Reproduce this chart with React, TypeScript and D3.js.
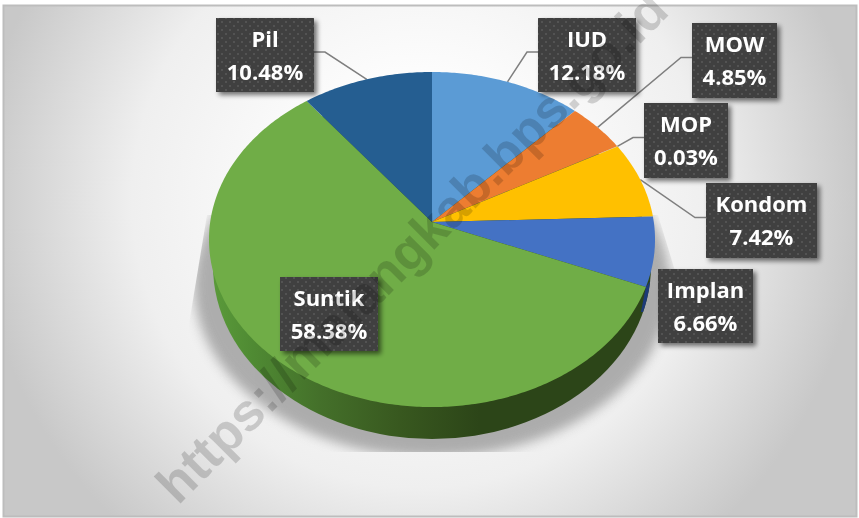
import React from "react";
import * as d3 from "d3";

const categories = ["IUD", "MOW", "MOP", "Kondom", "Implan", "Suntik", "Pil"];
const shares = [12.18, 4.85, 0.03, 7.42, 6.66, 58.38, 10.48];
const colours = ["#5b9bd5", "#ed7d31", "#a5a5a5", "#ffc000", "#4472c4", "#70ad47", "#255e91"];
const watermark = "https://malangkab.bps.go.id";

// label box layout: [x0, y0, x1, y1]
const boxes: Record<string, number[]> = {
  IUD: [538, 18, 636, 92],
  MOW: [692, 23, 777, 98],
  MOP: [644, 103, 728, 178],
  Kondom: [706, 183, 817, 258],
  Implan: [658, 269, 753, 343],
  Suntik: [280, 277, 378, 351],
  Pil: [216, 18, 314, 92],
};
const noLeader = ["Implan", "Suntik"];

const W = 859;
const H = 518;
const apex = { x: 432, y: 222 };
const persp = { s: 221.8, a: 165.7, k: -0.1045 };

function project(theta: number): [number, number] {
  const X = Math.sin(theta);
  const Y = -Math.cos(theta);
  const den = 1 + persp.k * Y;
  return [apex.x + (persp.s * X) / den, apex.y + (persp.a * Y) / den];
}

const lineGen = d3.line<[number, number]>();

function slicePath(a0: number, a1: number): string {
  const n = Math.max(2, Math.ceil((a1 - a0) * 80));
  const pts = d3.range(n + 1).map((i) => project(a0 + ((a1 - a0) * i) / n));
  return lineGen([[apex.x, apex.y], ...pts])! + "Z";
}

const arcs = d3.pie<number>().sort(null)(shares);
const bottom = { cx: 432, cy: 266, rx: 219, ry: 173 };
const shadow = { cx: 432, cy: 285, rx: 238, ry: 172 };

export default function App() {
  const implanIdx = categories.indexOf("Implan");
  const split = project(arcs[implanIdx].endAngle);
  return (
    <svg
      width={W}
      height={H}
      viewBox={`0 0 ${W} ${H}`}
      style={{ position: "fixed", left: 0, top: 0, display: "block" }}
    >
      <defs>
        <radialGradient id="bg" gradientUnits="userSpaceOnUse" cx={0} cy={0} r={1}
          gradientTransform="translate(420 200) scale(480 480)">
          <stop offset="0.2" stopColor="#ffffff" />
          <stop offset="0.6" stopColor="#efefef" />
          <stop offset="0.92" stopColor="#c8c8c8" />
        </radialGradient>
        <linearGradient id="side" gradientUnits="userSpaceOnUse" x1={213} x2={480} y1={0} y2={0}>
          <stop offset="0" stopColor="#5a9a3a" />
          <stop offset="0.15" stopColor="#4f8a33" />
          <stop offset="0.4" stopColor="#44702a" />
          <stop offset="0.7" stopColor="#38581f" />
          <stop offset="1" stopColor="#2c4518" />
        </linearGradient>
        <filter id="blur" x="-10%" y="-10%" width="120%" height="120%">
          <feGaussianBlur stdDeviation={6} />
        </filter>
        <filter id="boxShadow" x="-20%" y="-20%" width="140%" height="140%">
          <feGaussianBlur in="SourceAlpha" stdDeviation={2.5} />
          <feOffset dx={3} dy={3} />
          <feComponentTransfer>
            <feFuncA type="linear" slope={0.55} />
          </feComponentTransfer>
          <feMerge>
            <feMergeNode />
            <feMergeNode in="SourceGraphic" />
          </feMerge>
        </filter>
        <pattern id="dots" width={8} height={8} patternUnits="userSpaceOnUse">
          <rect width={8} height={8} fill="#3f3f3f" />
          <rect x={1} y={1} width={2} height={2} fill="#525252" />
          <rect x={5} y={5} width={2} height={2} fill="#525252" />
        </pattern>
        <clipPath id="shadowClip">
          <polygon points="207,215 188,330 188,452 690,452 690,320 658,215" />
        </clipPath>
        <clipPath id="blueSide">
          <polygon
            points={[
              [split[0], split[1]],
              [split[0] - 5, split[1] + 25],
              [split[0] + 30, split[1] + 25],
              [split[0] + 30, split[1] - 40],
            ]
              .map((p) => p.join(","))
              .join(" ")}
          />
        </clipPath>
      </defs>

      <rect x={3.5} y={5.5} width={853} height={511} fill="url(#bg)" stroke="#bdbdbd" strokeWidth={2} />

      <g clipPath="url(#shadowClip)">
        <ellipse {...shadow} fill="#8f8f8f" filter="url(#blur)" opacity={0.7} />
      </g>

      <ellipse {...bottom} fill="url(#side)" />
      <ellipse {...bottom} fill="#1d3a78" clipPath="url(#blueSide)" />

      {arcs.map((d, i) => {
        const name = categories[i];
        if (noLeader.includes(name)) return null;
        const b = boxes[name];
        const mid = (d.startAngle + d.endAngle) / 2;
        const p = project(mid);
        const rightSide = name === "Pil";
        const bx = rightSide ? b[2] : b[0];
        const by = (b[1] + b[3]) / 2 - 3 + (name === "Kondom" ? 0 : 0);
        const elbow = rightSide ? bx + 11 : bx - 11;
        return (
          <path
            key={name}
            d={lineGen([p, [elbow, by], [bx, by]])!}
            fill="none"
            stroke="#7f7f7f"
            strokeWidth={1.5}
          />
        );
      })}

      {arcs.map((d, i) => (
        <path key={categories[i]} d={slicePath(d.startAngle, d.endAngle)} fill={colours[i]} />
      ))}

      {categories.map((name, i) => {
        const b = boxes[name];
        const cx = (b[0] + b[2]) / 2;
        return (
          <g key={name}>
            <rect x={b[0]} y={b[1]} width={b[2] - b[0]} height={b[3] - b[1]} fill="url(#dots)" filter="url(#boxShadow)" />
            <text x={cx} y={b[1] + 29} textAnchor="middle" fill="#fff" fontFamily="'Open Sans'" fontWeight={700} fontSize={22}>
              {name}
            </text>
            <text x={cx} y={b[1] + 62} textAnchor="middle" fill="#fff" fontFamily="'Open Sans'" fontWeight={700} fontSize={22}>
              {d3.format(".2f")(shares[i])}%
            </text>
          </g>
        );
      })}

      <text
        transform="translate(178 506) rotate(-45)"
        fontFamily="'Liberation Sans'"
        fontWeight={700}
        fontSize={52.5}
        fill="#000"
        opacity={0.16}
      >
        {watermark}
      </text>
    </svg>
  );
}
